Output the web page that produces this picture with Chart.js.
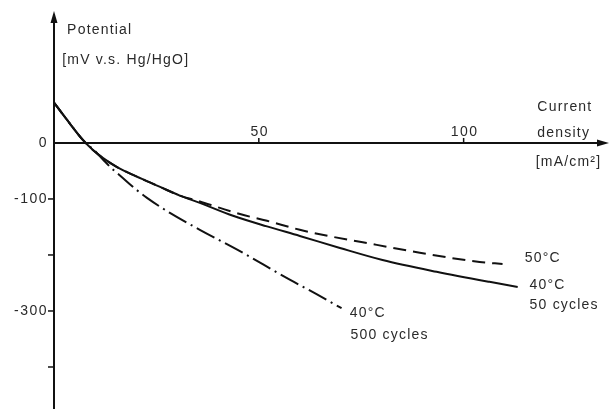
<!DOCTYPE html>
<html>
<head>
<meta charset="utf-8">
<script src="https://cdn.jsdelivr.net/npm/chart.js@4/dist/chart.umd.min.js"></script>
<style>
  html, body { margin: 0; padding: 0; background: #fff; }
  #wrap { position: relative; width: 613px; height: 409px; }
</style>
</head>
<body>
<div id="wrap"><canvas id="polChart"></canvas></div>
<script>
// polarisation curves, values
// current density in mA/cm2, potential in mV vs Hg/HgO

const xSolid = [0, 3.2, 7.1, 9.5, 12, 15.4, 19.3, 23.4, 25.9, 30.7, 35.6, 43.7, 52, 60, 69.8, 80.2, 93.4, 106.3, 113.2];
const ySolid = [72, 41, 5, -12.5, -27, -43, -57, -70.5, -78.5, -94, -107, -130, -149, -166, -187.5, -209, -230, -248, -257];

const xDashed = [0, 3.2, 7.1, 9.5, 12, 15.4, 19.3, 23.4, 25.9, 30.7, 35.6, 40.5, 45.4, 52, 60, 68, 78.8, 89.3, 103.9, 109.5];
const yDashed = [72, 41, 5, -12.5, -27, -43, -57, -70.5, -78.5, -94, -104.5, -116, -127, -139, -155, -167.5, -182, -196, -212.5, -216];

const xDashDot = [0, 3.2, 7.1, 10, 12, 14.1, 16.1, 20.2, 22.7, 28.3, 35.6, 46.1, 55.9, 64.1, 70.2];
const yDashDot = [72, 41, 5, -14.5, -30, -45.5, -58, -84, -98, -125, -155, -196, -237.5, -270, -295];

const xTickValues = [50, 100];
const yTickMarks = [-100, -200, -300, -400];
const yTickLabels = [0, -100, -300];

// curve labels: [text, x, y] in data units
const curveNotes = [
  ['50°C', 114.9, -205],
  ['40°C', 116.1, -254],
  ['50 cycles', 116.1, -290],
  ['40°C', 72.2, -304],
  ['500 cycles', 72.4, -344]
];
// axis titles
const yTitle = [['Potential', 3.2, 202], ['[mV v.s. Hg/HgO]', 2, 148]];
const xTitle = [['Current', 118, 64], ['density', 118, 18], ['[mA/cm²]', 117.6, -34]];

const toPts = (xs, ys) => xs.map((x, i) => ({ x: x, y: ys[i] }));

const INK = '#111';
const TEXT = '#2a2a2a';
const FONT = '14px "Liberation Sans", Arial, sans-serif';

// hand drawn style axes, ticks and notes
const sketchAxes = {
  id: 'sketchAxes',
  beforeDatasetsDraw(chart) {
    const ctx = chart.ctx;
    const xs = chart.scales.x, ys = chart.scales.y;
    const x0 = xs.getPixelForValue(0);
    const y0 = ys.getPixelForValue(0);
    ctx.save();
    ctx.strokeStyle = INK;
    ctx.fillStyle = INK;
    ctx.lineWidth = 2;
    // x axis + arrow
    ctx.beginPath();
    ctx.moveTo(x0, y0);
    ctx.lineTo(xs.right - 6, y0);
    ctx.stroke();
    ctx.beginPath();
    ctx.moveTo(xs.right + 2, y0);
    ctx.lineTo(xs.right - 10, y0 - 3.5);
    ctx.lineTo(xs.right - 10, y0 + 3.5);
    ctx.closePath();
    ctx.fill();
    // y axis + arrow
    ctx.beginPath();
    ctx.moveTo(x0, ys.bottom);
    ctx.lineTo(x0, ys.top + 6);
    ctx.stroke();
    ctx.beginPath();
    ctx.moveTo(x0, ys.top - 2);
    ctx.lineTo(x0 - 3.5, ys.top + 10);
    ctx.lineTo(x0 + 3.5, ys.top + 10);
    ctx.closePath();
    ctx.fill();
    // ticks
    ctx.lineWidth = 1.5;
    xTickValues.forEach(v => {
      const px = xs.getPixelForValue(v);
      ctx.beginPath();
      ctx.moveTo(px, y0);
      ctx.lineTo(px, y0 - 5);
      ctx.stroke();
    });
    yTickMarks.forEach(v => {
      const py = ys.getPixelForValue(v);
      ctx.beginPath();
      ctx.moveTo(x0 - 6, py);
      ctx.lineTo(x0, py);
      ctx.stroke();
    });
    // tick labels
    ctx.fillStyle = TEXT;
    ctx.font = FONT;
    ctx.letterSpacing = '1.5px';
    ctx.textBaseline = 'middle';
    ctx.textAlign = 'center';
    xTickValues.forEach(v => {
      ctx.fillText(String(v), xs.getPixelForValue(v) + 1, y0 - 11);
    });
    ctx.textAlign = 'right';
    yTickLabels.forEach(v => {
      ctx.fillText(String(v), x0 - 6, ys.getPixelForValue(v));
    });
    ctx.restore();
  },
  afterDatasetsDraw(chart) {
    const ctx = chart.ctx;
    const xs = chart.scales.x, ys = chart.scales.y;
    ctx.save();
    ctx.fillStyle = TEXT;
    ctx.font = FONT;
    ctx.letterSpacing = '1.2px';
    ctx.textAlign = 'left';
    ctx.textBaseline = 'middle';
    [...yTitle, ...xTitle, ...curveNotes].forEach(([t, x, y]) => {
      ctx.fillText(t, xs.getPixelForValue(x), ys.getPixelForValue(y));
    });
    ctx.restore();
  }
};

const lineDefaults = {
  borderColor: INK,
  borderWidth: 2,
  pointRadius: 0,
  fill: false,
  cubicInterpolationMode: 'monotone'
};

new Chart(document.getElementById('polChart'), {
  type: 'line',
  data: {
    datasets: [
      { ...lineDefaults, label: '40°C 50 cycles', data: toPts(xSolid, ySolid) },
      { ...lineDefaults, label: '50°C', data: toPts(xDashed, yDashed), borderDash: [13, 7] },
      { ...lineDefaults, label: '40°C 500 cycles', data: toPts(xDashDot, yDashDot), borderDash: [20, 5, 2, 5] }
    ]
  },
  options: {
    responsive: true,
    maintainAspectRatio: false,
    animation: false,
    layout: { padding: { left: 54, right: 6, top: 13, bottom: 0 } },
    scales: {
      x: { type: 'linear', min: 0, max: 135, display: false },
      y: { type: 'linear', min: -475, max: 232, display: false }
    },
    plugins: {
      legend: { display: false },
      tooltip: { enabled: false }
    }
  },
  plugins: [sketchAxes]
});
</script>
</body>
</html>
